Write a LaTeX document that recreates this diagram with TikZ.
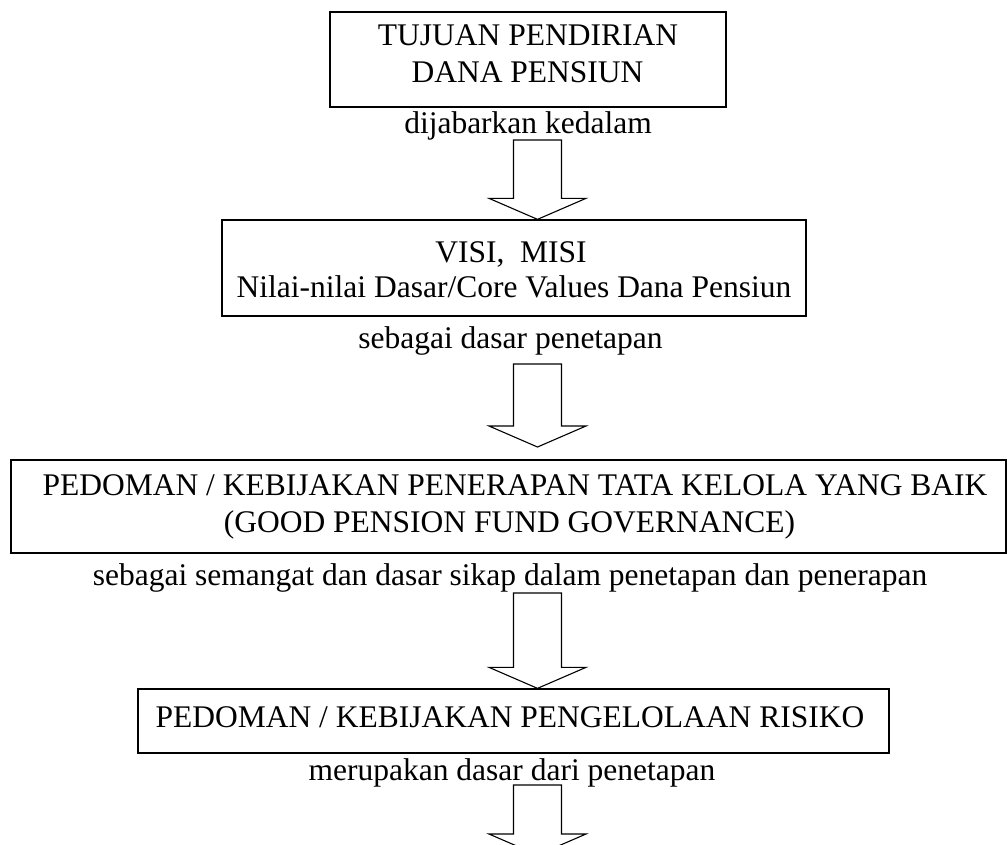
\documentclass[tikz,border=0pt]{standalone}
\usepackage{fontspec}
\setmainfont{Liberation Serif}
\usetikzlibrary{calc}
\newcommand{\blockarr}[2]{%
  \draw[blockarrow] let \p1=(#1), \p2=(#2) in
  (\x1-24pt,\y1) -- (\x1+24pt,\y1) -- (\x1+24pt,\y2+21pt) -- (\x1+48.5pt,\y2+21pt)
  -- (\x1,\y2) -- (\x1-48.5pt,\y2+21pt) -- (\x1-24pt,\y2+21pt) -- cycle;}
\begin{document}
\begin{tikzpicture}[x=1pt,y=-1pt,
  box/.style={draw, line width=1.3pt, inner sep=0pt},
  txt/.style={font=\fontsize{31.5}{36}\selectfont, anchor=base, inner sep=0pt},
  blockarrow/.style={draw, line width=1.1pt, fill=white}]
\useasboundingbox (0,0) rectangle (1007,844);
\fill[white] (0,0) rectangle (1007,844);

% boxes
\node[box, minimum width=396pt, minimum height=95pt] (b1) at (528,59.5) {};
\node[box, minimum width=584pt, minimum height=96pt] (b2) at (514,268) {};
\node[box, minimum width=995pt, minimum height=93pt] (b3) at (508.5,506.5) {};
\node[box, minimum width=751pt, minimum height=64pt] (b4) at (513.5,721) {};

% box texts
\node[txt] (t1a) at (528,45) {TUJUAN PENDIRIAN};
\node[txt] (t1b) at (527.5,82) {DANA PENSIUN};
\node[txt] (t2a) at (511,262) {VISI,\ \ MISI};
\node[txt] (t2b) at (514,297) {Nilai-nilai Dasar/Core Values Dana Pensiun};
\node[txt] (t3a) at (515,495) {PEDOMAN / KEBIJAKAN PENERAPAN TATA KELOLA YANG BAIK};
\node[txt] (t3b) at (509.5,532) {(GOOD PENSION FUND GOVERNANCE)};
\node[txt] (t4a) at (510,727) {PEDOMAN / KEBIJAKAN PENGELOLAAN RISIKO};

% connector labels
\node[txt] (l1) at (528,133) {dijabarkan kedalam};
\node[txt] (l2) at (510.5,348) {sebagai dasar penetapan};
\node[txt] (l3) at (510,585) {sebagai semangat dan dasar sikap dalam penetapan dan penerapan};
\node[txt] (l4) at (512,780) {merupakan dasar dari penetapan};

% block arrows
\coordinate (a1top) at (537.5,140);
\coordinate (a2top) at (537.5,364);
\coordinate (a2tip) at (537.5,447);
\coordinate (a3top) at (537.5,593);
\coordinate (a4top) at (537.5,785);
\coordinate (a4tip) at (537.5,855);
\blockarr{a1top}{a1top |- b2.north}
\blockarr{a2top}{a2tip}
\blockarr{a3top}{a3top |- b4.north}
\blockarr{a4top}{a4tip}
\end{tikzpicture}
\end{document}
